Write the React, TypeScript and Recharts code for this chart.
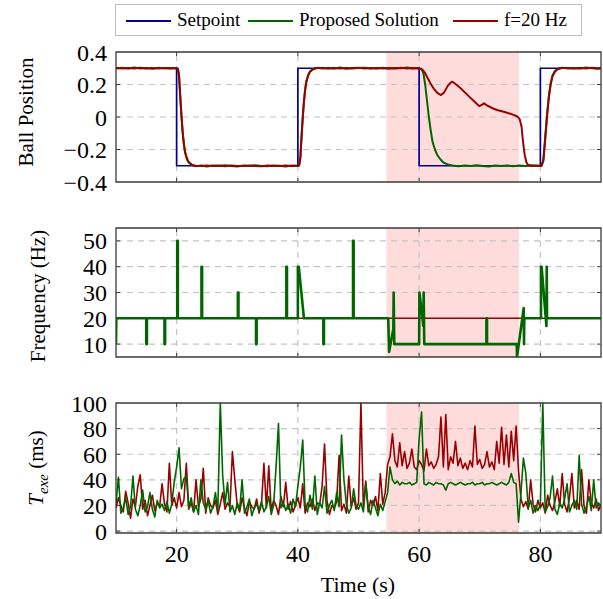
import React from 'react';
import { LineChart, Line, XAxis, YAxis, ReferenceArea, ReferenceLine } from 'recharts';

const FONT = "'Liberation Serif', 'DejaVu Serif', serif";
const BLUE = '#000099';
const GREEN = '#006600';
const RED = '#990000';
const SHADE = '#ffdcdc';
const GRID = '#c4c4c4';
const FRAME = '#3a3a3a';

// ---------- shared x axis ----------
const xDomain: [number, number] = [10, 90];
const xTicks = [20, 40, 60, 80];
const shadedRegion: [number, number] = [54.6, 76.5];

// ---------- panel 1 : ball position ----------
const ballDomain: [number, number] = [-0.4, 0.4];
const ballTicks = [-0.4, -0.2, 0, 0.2, 0.4];
const ballTickLabels = ['\u22120.4', '\u22120.2', '0', '0.2', '0.4'];

const ballSetpoint: [number, number][] = [
  [10, 0.3], [20, 0.3], [20, -0.3], [40, -0.3], [40, 0.3], [60, 0.3], [60, -0.3], [80, -0.3], [80, 0.3], [90, 0.3],
];

const ballProposed: [number, number][] = [
  [10, 0.298], [11, 0.303], [12, 0.299], [13, 0.304], [14, 0.298], [15, 0.301], [16, 0.297], [17, 0.303], [18, 0.3], [19, 0.302],
  [20, 0.299], [20.2, 0.296], [20.4, 0.25], [20.6, 0.12], [20.8, 0.0], [21.0, -0.1], [21.2, -0.17], [21.4, -0.22], [21.7, -0.26],
  [22.0, -0.28], [22.5, -0.296], [23.2, -0.303], [24, -0.299], [25, -0.304], [26, -0.298], [27, -0.302], [28, -0.297], [29, -0.301],
  [30, -0.304], [31, -0.299], [32, -0.302], [33, -0.297], [34, -0.301], [35, -0.303], [36, -0.298], [37, -0.3], [38, -0.304],
  [39, -0.299], [40, -0.301], [40.2, -0.297], [40.4, -0.25], [40.6, -0.12], [40.8, 0.0], [41.0, 0.1], [41.2, 0.17], [41.4, 0.22],
  [41.7, 0.26], [42.0, 0.28], [42.5, 0.296], [43.2, 0.303], [44, 0.298], [45, 0.302], [46, 0.299], [47, 0.304], [48, 0.297],
  [49, 0.301], [50, 0.303], [51, 0.298], [52, 0.302], [53, 0.299], [54, 0.303], [55, 0.297], [56, 0.301], [57, 0.3], [58, 0.304],
  [59, 0.298], [60, 0.301], [60.4, 0.295], [60.7, 0.27], [61.0, 0.2], [61.3, 0.1], [61.6, 0.0], [61.9, -0.08], [62.2, -0.15],
  [62.6, -0.2], [63.0, -0.235], [63.5, -0.26], [64.0, -0.28], [64.7, -0.292], [65.5, -0.299], [66.5, -0.303], [67.5, -0.298],
  [68.5, -0.302], [69.5, -0.297], [70.5, -0.301], [71.5, -0.304], [72.5, -0.299], [73.5, -0.302], [74.5, -0.298], [75.5, -0.303],
  [76.5, -0.299], [77.5, -0.301], [78.5, -0.297], [79.5, -0.302], [80.2, -0.3], [80.5, -0.26], [80.8, -0.12], [81.1, 0.02],
  [81.4, 0.13], [81.7, 0.21], [82.0, 0.255], [82.4, 0.283], [82.9, 0.297], [83.6, 0.303], [84.5, 0.299], [85.5, 0.302],
  [86.5, 0.298], [87.5, 0.304], [88.5, 0.3], [89.5, 0.297], [90, 0.301],
];

const ballFixed20: [number, number][] = [
  [10, 0.301], [11, 0.299], [12, 0.302], [13, 0.298], [14, 0.303], [15, 0.299], [16, 0.301], [17, 0.298], [18, 0.302], [19, 0.299],
  [20, 0.301], [20.2, 0.298], [20.4, 0.26], [20.6, 0.13], [20.8, 0.01], [21.0, -0.09], [21.2, -0.165], [21.4, -0.215], [21.7, -0.255],
  [22.0, -0.278], [22.5, -0.294], [23.2, -0.301], [24, -0.302], [25, -0.298], [26, -0.301], [27, -0.299], [28, -0.303], [29, -0.298],
  [30, -0.301], [31, -0.302], [32, -0.298], [33, -0.301], [34, -0.303], [35, -0.299], [36, -0.301], [37, -0.302], [38, -0.298],
  [39, -0.301], [40, -0.299], [40.2, -0.298], [40.4, -0.26], [40.6, -0.13], [40.8, -0.01], [41.0, 0.09], [41.2, 0.165], [41.4, 0.215],
  [41.7, 0.255], [42.0, 0.278], [42.5, 0.294], [43.2, 0.301], [44, 0.302], [45, 0.298], [46, 0.301], [47, 0.299], [48, 0.302],
  [49, 0.298], [50, 0.301], [51, 0.303], [52, 0.299], [53, 0.301], [54, 0.298], [55, 0.302], [56, 0.299], [57, 0.303], [58, 0.298],
  [59, 0.301], [60, 0.299], [60.5, 0.293], [60.9, 0.275], [61.4, 0.24], [61.9, 0.205], [62.4, 0.175], [63.0, 0.148], [63.6, 0.135],
  [64.1, 0.15], [64.7, 0.19], [65.2, 0.212], [65.5, 0.217], [66.0, 0.203], [66.8, 0.178], [67.5, 0.153], [68.3, 0.124], [69.2, 0.092],
  [69.9, 0.067], [70.4, 0.076], [70.7, 0.084], [71.2, 0.071], [71.8, 0.06], [72.4, 0.049], [73.0, 0.042], [73.8, 0.034], [74.5, 0.026],
  [75.2, 0.018], [75.8, 0.01], [76.3, 0.0], [76.6, -0.015], [76.9, -0.06], [77.1, -0.14], [77.4, -0.23], [77.7, -0.28], [78.0, -0.296],
  [78.6, -0.301], [79.3, -0.298], [80.2, -0.3], [80.5, -0.27], [80.8, -0.14], [81.1, 0.0], [81.4, 0.12], [81.7, 0.2], [82.0, 0.25],
  [82.4, 0.28], [82.9, 0.296], [83.6, 0.301], [84.5, 0.302], [85.5, 0.298], [86.5, 0.301], [87.5, 0.299], [88.5, 0.303], [89.5, 0.299],
  [90, 0.3],
];

// ---------- panel 2 : frequency ----------
const freqDomain: [number, number] = [5, 55];
const freqTicks = [10, 20, 30, 40, 50];
const freqTickLabels = ['10', '20', '30', '40', '50'];

const freqProposed: [number, number][] = [
  [10, 10], [10.05, 20], [15, 20], [15, 10], [15.1, 10], [15.1, 20], [18, 20], [18, 10], [18.1, 10], [18.1, 20],
  [20.1, 20], [20.1, 50], [20.2, 50], [20.2, 20], [24.1, 20], [24.1, 40], [24.2, 40], [24.2, 20], [30.1, 20], [30.1, 30],
  [30.2, 30], [30.2, 20], [33.1, 20], [33.1, 10], [33.2, 10], [33.2, 20], [38.1, 20], [38.1, 40], [38.2, 40], [38.2, 20],
  [40.0, 20], [40.0, 40], [40.15, 40], [41.0, 20], [44.2, 20], [44.2, 10], [44.3, 10], [44.3, 20], [49.1, 20], [49.1, 50],
  [49.2, 50], [49.2, 20], [54.9, 20], [55.05, 7], [55.75, 16], [55.8, 30], [55.9, 10], [60.0, 10], [60.05, 30], [60.7, 17],
  [60.75, 30], [60.85, 10], [71.1, 10], [71.1, 20], [71.2, 20], [71.2, 10], [76.1, 10], [76.15, 5], [77.25, 24], [77.3, 10],
  [77.35, 20], [80.1, 20], [80.1, 40], [80.2, 40], [81.0, 17], [81.05, 40], [81.1, 20], [90, 20],
];
const freqFixed20: [number, number][] = [[10, 20], [90, 20]];

// ---------- panel 3 : execution time ----------
const texeDomain: [number, number] = [-1.5, 100];
const texeTicks = [0, 20, 40, 60, 80, 100];
const texeTickLabels = ['0', '20', '40', '60', '80', '100'];
const texeStart = 10;
const texeSamplePeriod = 0.4;

const texeProposed = [
  22, 42, 14, 18, 26, 13, 19, 43, 17, 12,
  20, 32, 15, 19, 30, 17, 11, 24, 18, 21,
  16, 23, 14, 21, 38, 50, 65, 33, 41, 43,
  18, 26, 15, 20, 13, 40, 22, 17, 24, 14,
  19, 30, 16, 100, 43, 21, 38, 15, 20, 13,
  22, 17, 40, 14, 19, 25, 12, 18, 21, 16,
  23, 15, 19, 27, 13, 20, 50, 84, 18, 22,
  16, 21, 14, 25, 19, 35, 50, 71, 20, 15,
  28, 17, 43, 13, 22, 18, 35, 14, 20, 24,
  16, 30, 19, 75, 40, 21, 14, 18, 33, 20,
  17, 22, 15, 37, 19, 13, 24, 18, 12, 21,
  16, 23, 30, 50, 40, 37, 39, 36, 38, 37,
  37, 38, 36, 37, 38, 72, 93, 37, 36, 38,
  37, 36, 38, 37, 37, 36, 32, 37, 38, 37,
  36, 37, 38, 37, 36, 37, 37, 38, 36, 37,
  37, 38, 36, 37, 37, 38, 37, 36, 37, 38,
  37, 36, 38, 45, 38, 37, 7, 30, 57, 45,
  18, 24, 14, 20, 16, 21, 100, 15, 19, 26,
  43, 17, 13, 22, 18, 25, 37, 15, 20, 24,
  17, 59, 21, 14, 19, 27, 16, 40, 18, 22,
  19,
];

const texeFixed20 = [
  18, 26, 20, 15, 31, 22, 10, 25, 19, 35,
  44, 17, 24, 12, 20, 28, 16, 22, 19, 37,
  21, 15, 53, 20, 26, 18, 30, 19, 24, 53,
  17, 22, 15, 40, 19, 25, 49, 14, 26, 20,
  18, 24, 13, 21, 30, 17, 22, 19, 62, 40,
  20, 15, 26, 18, 12, 23, 19, 17, 25, 14,
  21, 53, 18, 51, 16, 24, 20, 13, 27, 19,
  38, 17, 23, 15, 20, 26, 18, 37, 14, 22,
  19, 25, 16, 22, 21, 35, 68, 24, 13, 20,
  18, 23, 59, 16, 21, 14, 43, 19, 26, 17,
  22, 100, 18, 39, 15, 24, 20, 27, 16, 45,
  21, 30, 52, 58, 76, 55, 50, 69, 51, 62,
  49, 53, 64, 50, 48, 55, 52, 47, 64, 51,
  54, 49, 52, 58, 89, 50, 91, 48, 58, 53,
  70, 51, 57, 49, 53, 48, 55, 50, 82, 52,
  56, 49, 52, 62, 50, 54, 48, 70, 53, 81,
  52, 75, 50, 78, 55, 82, 47, 25, 19, 23,
  17, 40, 21, 15, 24, 18, 22, 14, 28, 20,
  16, 23, 33, 19, 45, 21, 15, 26, 45, 18,
  24, 17, 48, 20, 14, 40, 22, 18, 25, 16,
  21,
];

// ---------- helpers ----------
const pairsToRows = (pairs: [number, number][]) => pairs.map(([t, v]) => ({ t, v }));
const samplesToRows = (vals: number[]) => vals.map((v, i) => ({ t: texeStart + i * texeSamplePeriod, v }));

type Series = { rows: { t: number; v: number }[]; color: string; width: number; key: string };

type PanelProps = {
  top: number;
  height: number;
  marginTop: number;
  marginBottom: number;
  yDomain: [number, number];
  yTicks: number[];
  yLabels: string[];
  series: Series[];
  showX: boolean;
};

const PLOT_WIDTH = 485;
const TICK_LEN = 4;

function Panel({ top, height, marginTop, marginBottom, yDomain, yTicks, yLabels, series, showX }: PanelProps) {
  const fmt = (v: number) => {
    const i = yTicks.findIndex((t) => Math.abs(t - v) < 1e-9);
    return i >= 0 ? yLabels[i] : String(v);
  };
  const tickStyle = { fontFamily: FONT, fontSize: 24, fill: '#000' };
  const plotHeight = height - marginTop - marginBottom;
  const dy = ((yDomain[1] - yDomain[0]) * TICK_LEN) / plotHeight;
  const dx = ((xDomain[1] - xDomain[0]) * TICK_LEN) / PLOT_WIDTH;
  const innerY = yTicks.filter((t) => t > yDomain[0] && t < yDomain[1]);
  return (
    <div style={{ position: 'absolute', left: 0, top }}>
      <LineChart
        width={603}
        height={height}
        margin={{ top: marginTop, right: 2, bottom: showX ? 0 : marginBottom, left: 0 }}
        style={{ fontFamily: FONT }}
      >
        <XAxis
          dataKey="t"
          type="number"
          domain={xDomain}
          ticks={xTicks}
          allowDataOverflow
          hide={!showX}
          height={showX ? marginBottom : 0}
          axisLine={false}
          tickLine={false}
          tickSize={0}
          tickMargin={12}
          tick={tickStyle}
        />
        <YAxis
          type="number"
          domain={yDomain}
          ticks={yTicks}
          allowDataOverflow
          width={116}
          axisLine={false}
          tickLine={false}
          tickSize={0}
          tickMargin={9}
          tick={tickStyle}
          tickFormatter={fmt}
          interval={0}
        />
        <ReferenceArea x1={shadedRegion[0]} x2={shadedRegion[1]} y1={yDomain[0]} y2={yDomain[1]} fill={SHADE} fillOpacity={1} stroke="none" />
        {innerY.map((t) => (
          <ReferenceLine key={'gy' + t} y={t} stroke={GRID} strokeWidth={1.2} strokeDasharray="6 5" />
        ))}
        {xTicks.map((t) => (
          <ReferenceLine key={'gx' + t} x={t} stroke={GRID} strokeWidth={1.2} strokeDasharray="6 5" />
        ))}
        {innerY.map((t) => (
          <ReferenceLine key={'tl' + t} segment={[{ x: xDomain[0], y: t }, { x: xDomain[0] + dx, y: t }]} stroke={FRAME} strokeWidth={1} />
        ))}
        {innerY.map((t) => (
          <ReferenceLine key={'tr' + t} segment={[{ x: xDomain[1] - dx, y: t }, { x: xDomain[1], y: t }]} stroke={FRAME} strokeWidth={1} />
        ))}
        {xTicks.map((t) => (
          <ReferenceLine key={'tb' + t} segment={[{ x: t, y: yDomain[0] }, { x: t, y: yDomain[0] + dy }]} stroke={FRAME} strokeWidth={1} />
        ))}
        {xTicks.map((t) => (
          <ReferenceLine key={'tt' + t} segment={[{ x: t, y: yDomain[1] - dy }, { x: t, y: yDomain[1] }]} stroke={FRAME} strokeWidth={1} />
        ))}
        {series.map((s) => (
          <Line
            key={s.key}
            data={s.rows}
            dataKey="v"
            type="linear"
            stroke={s.color}
            strokeWidth={s.width}
            dot={false}
            activeDot={false}
            isAnimationActive={false}
            strokeLinejoin="round"
          />
        ))}
        <ReferenceArea x1={xDomain[0]} x2={xDomain[1]} y1={yDomain[0]} y2={yDomain[1]} fill="none" stroke={FRAME} strokeWidth={1.3} />
      </LineChart>
    </div>
  );
}

const titleStyle = (cx: number, cy: number, size: number): React.CSSProperties => ({
  position: 'absolute',
  left: cx,
  top: cy,
  transform: 'translate(-50%, -50%) rotate(-90deg)',
  whiteSpace: 'nowrap',
  fontFamily: FONT,
  fontSize: size,
  color: '#000',
});

function LegendItem({ x, color, label }: { x: number; color: string; label: string }) {
  return (
    <>
      <div style={{ position: 'absolute', left: x - 115, top: 15, width: 45, height: 2, background: color }} />
      <div style={{ position: 'absolute', left: x - 115 + 51, top: 4, fontFamily: FONT, fontSize: 19, color: '#000', whiteSpace: 'nowrap' }}>
        {label}
      </div>
    </>
  );
}

export default function App() {
  return (
    <div style={{ position: 'absolute', left: 0, top: 0, width: 603, height: 599, background: '#fff', overflow: 'hidden', fontFamily: FONT }}>
      <div style={{ position: 'absolute', left: 115, top: 4, width: 465, height: 30, border: '1px solid #bdbdbd' }}>
        <LegendItem x={125} color={BLUE} label="Setpoint" />
        <LegendItem x={247} color={GREEN} label="Proposed Solution" />
        <LegendItem x={452} color={RED} label="f=20 Hz" />
      </div>

      <Panel
        top={0}
        height={200}
        marginTop={52}
        marginBottom={18}
        yDomain={ballDomain}
        yTicks={ballTicks}
        yLabels={ballTickLabels}
        showX={false}
        series={[
          { key: 'sp', rows: pairsToRows(ballSetpoint), color: BLUE, width: 1.7 },
          { key: 'pr', rows: pairsToRows(ballProposed), color: GREEN, width: 2 },
          { key: 'f20', rows: pairsToRows(ballFixed20), color: RED, width: 2 },
        ]}
      />
      <Panel
        top={200}
        height={180}
        marginTop={28}
        marginBottom={23}
        yDomain={freqDomain}
        yTicks={freqTicks}
        yLabels={freqTickLabels}
        showX={false}
        series={[
          { key: 'f20', rows: pairsToRows(freqFixed20), color: RED, width: 1.6 },
          { key: 'pr', rows: pairsToRows(freqProposed), color: GREEN, width: 2.6 },
        ]}
      />
      <Panel
        top={380}
        height={219}
        marginTop={23}
        marginBottom={66}
        yDomain={texeDomain}
        yTicks={texeTicks}
        yLabels={texeTickLabels}
        showX={true}
        series={[
          { key: 'f20', rows: samplesToRows(texeFixed20), color: RED, width: 1.6 },
          { key: 'pr', rows: samplesToRows(texeProposed), color: GREEN, width: 1.6 },
        ]}
      />

      <div style={titleStyle(26, 112, 21)}>Ball Position</div>
      <div style={titleStyle(38, 296, 21)}>Frequency (Hz)</div>
      <div style={titleStyle(38, 468, 21)}>
        <i>T</i>
        <sub style={{ fontSize: 15, fontStyle: 'italic' }}>exe</sub> (ms)
      </div>
      <div
        style={{
          position: 'absolute',
          left: 358,
          top: 585,
          transform: 'translate(-50%, -50%)',
          whiteSpace: 'nowrap',
          fontFamily: FONT,
          fontSize: 22,
          color: '#000',
        }}
      >
        Time (s)
      </div>
    </div>
  );
}
